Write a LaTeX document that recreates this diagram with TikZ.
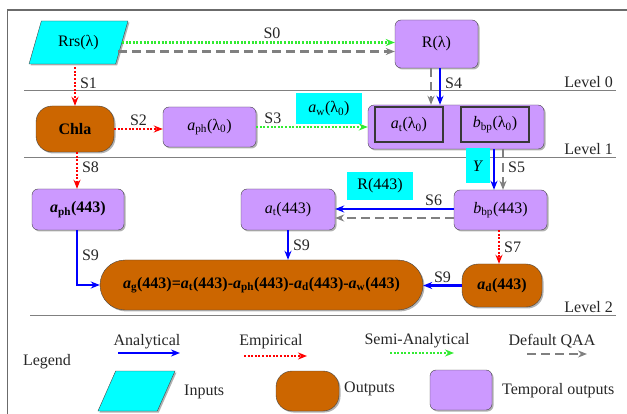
\documentclass[tikz,border=0pt]{standalone}
\usepackage{fontspec}
\setmainfont{Liberation Serif}
\usetikzlibrary{arrows.meta,shapes.geometric,shadows}

\definecolor{tempcol}{RGB}{204,153,255}
\definecolor{outcol}{RGB}{204,102,0}
\definecolor{incol}{RGB}{0,255,255}
\definecolor{semicol}{RGB}{50,235,50}
\definecolor{qaacol}{RGB}{128,128,128}
\definecolor{edgecol}{RGB}{70,70,70}

\begin{document}
\begin{tikzpicture}[x=1pt,y=-1pt,
  font=\fontsize{16}{19}\selectfont,
  shad/.style={drop shadow={shadow xshift=1.5pt,shadow yshift=-1.5pt,opacity=0.3,fill=black}},
  tempbox/.style={draw=edgecol,fill=tempcol,rounded corners=6pt,shad,inner sep=0pt},
  outputbox/.style={draw=edgecol,fill=outcol,rounded corners=16pt,shad,inner sep=0pt,
                    font=\fontsize{16}{19}\selectfont\bfseries},
  inputbox/.style={draw=edgecol,fill=incol,trapezium,trapezium left angle=67,
                   trapezium right angle=113,trapezium stretches=true,shad,inner sep=1pt},
  cell/.style={draw=edgecol!80!black,line width=1.2pt,minimum width=68,minimum height=35,inner sep=0pt},
  tagbox/.style={fill=incol,inner sep=0pt},
  arr/.style={-{Stealth[length=9pt,width=7pt]},line width=2.2pt},
  anl/.style={arr,blue},
  emp/.style={arr,red,dash pattern=on 2pt off 1.6pt},
  semi/.style={arr,semicol,dash pattern=on 2pt off 1.6pt},
  qaa/.style={arr,qaacol,dash pattern=on 9pt off 5pt},
  lvl/.style={qaacol,line width=1pt},
  lbl/.style={inner sep=1pt,text=black!85}
]
  \useasboundingbox (0,0) rectangle (627,414);
  % frame and level lines
  \draw[edgecol!80,line width=1.6pt] (7.5,414) -- (7.5,10) -- (627,10);
  \draw[lvl] (24,91) -- (616,91);
  \draw[lvl] (24,158) -- (616,158);
  \draw[lvl] (30,316) -- (616,316);
  \node[lbl,anchor=base east] (lv0) at (614,87.5)  {Level 0};
  \node[lbl,anchor=base east] (lv1) at (614,154.5) {Level 1};
  \node[lbl,anchor=base east] (lv2) at (614,312.5) {Level 2};

  % Level 0
  \node[inputbox,minimum width=99,minimum height=43] (rrs) at (78.5,42.5) {Rrs(λ)};
  \node[tempbox,minimum width=83,minimum height=48]  (R)   at (436.5,44)  {R(λ)};

  % Level 1
  \node[outputbox,minimum width=78,minimum height=46] (chla) at (75,129)    {Chla};
  \node[tempbox,minimum width=93,minimum height=40]   (aph0) at (209.5,127) {\textit{a}\textsubscript{ph}(λ\textsubscript{0})};
  \node[tempbox,minimum width=176,minimum height=44]  (bp0)  at (456,127)   {};
  \node[cell] (at0)  at (409,124.5) {\textit{a}\textsubscript{t}(λ\textsubscript{0})};
  \node[cell] (bbp0) at (495,124.5) {\textit{b}\textsubscript{bp}(λ\textsubscript{0})};
  \node[tagbox,minimum width=66,minimum height=31] (aw) at (329,108.5) {\textit{a}\textsubscript{w}(λ\textsubscript{0})};

  % Level 2
  \node[tempbox,minimum width=92,minimum height=41,font=\fontsize{16}{19}\selectfont\bfseries]
        (aph443) at (78,209.5) {\textit{a}\textsubscript{ph}(443)};
  \node[tempbox,minimum width=94,minimum height=41] (at443)  at (288,209.5)  {\textit{a}\textsubscript{t}(443)};
  \node[tempbox,minimum width=93,minimum height=40] (bbp443) at (500.5,210)  {\textit{b}\textsubscript{bp}(443)};
  \node[tagbox,minimum width=66,minimum height=28]  (R443)   at (380,186)    {R(443)};
  \node[tagbox,minimum width=24,minimum height=35]  (Y)      at (478,166)    {\textit{Y}};
  \node[outputbox,minimum width=323,minimum height=50,rounded corners=25pt] (ag) at (261.5,285)
        {\textit{a}\textsubscript{g}(443)=\textit{a}\textsubscript{t}(443)-\textit{a}\textsubscript{ph}(443)-\textit{a}\textsubscript{d}(443)-\textit{a}\textsubscript{w}(443)};
  \node[outputbox,minimum width=80,minimum height=43] (ad) at (502,285.5) {\textit{a}\textsubscript{d}(443)};

  % S0: Rrs -> R
  \draw[semi] (rrs.east) -- node[pos=0.55,above=2pt,lbl] {S0} (rrs.east -| R.west);
  \draw[qaa] ([xshift=-4pt,yshift=-9pt]rrs.east) -- ([yshift=-9pt]rrs.east -| R.west);

  % S1, S2, S3, S4
  \draw[emp,shorten <=3pt] (chla.north |- rrs.south) -- node[pos=0.45,right=3pt,lbl] {S1} (chla.north);
  \draw[emp] (chla.east) -- node[above=1pt,lbl] {S2} (chla.east -| aph0.west);
  \draw[semi] (aph0.east) -- node[pos=0.15,above=1pt,lbl] {S3} (aph0.east -| bp0.west);
  \draw[anl] ([xshift=3.5pt]R.south) -- node[pos=0.4,right=3pt,lbl] {S4} ([xshift=3.5pt]R.south |- bp0.north);
  \draw[qaa] ([xshift=-5.5pt]R.south) -- ([xshift=-5.5pt]R.south |- bp0.north);

  % S5, S6, S7, S8
  \draw[anl] ([xshift=-6.5pt]bbp443.north |- bp0.south) -- ([xshift=-6.5pt]bbp443.north);
  \draw[qaa] ([xshift=2.5pt]bbp443.north |- bp0.south) -- node[pos=0.45,right=3pt,lbl] {S5} ([xshift=2.5pt]bbp443.north);
  \draw[anl] ([yshift=1pt]bbp443.west) -- node[pos=0.17,above=1pt,lbl] {S6} ([yshift=1pt]bbp443.west -| at443.east);
  \draw[qaa] ([yshift=-8pt]bbp443.west) -- ([yshift=-8pt]bbp443.west -| at443.east);
  \draw[emp] ([xshift=-1.5pt]bbp443.south) -- node[right=3pt,lbl] {S7} ([xshift=-1.5pt]bbp443.south |- ad.north);
  \draw[emp] ([xshift=2pt]chla.south) -- node[pos=0.4,right=3pt,lbl] {S8} ([xshift=2pt]chla.south |- aph443.north);

  % S9 into a_g
  \draw[anl] ([xshift=-1pt]aph443.south) |- node[pos=0.23,right=3pt,lbl] {S9} (ag.west);
  \draw[anl] (at443.south) -- node[right=3pt,lbl] {S9} (at443.south |- ag.north);
  \draw[anl] (ad.west) -- node[above=1pt,lbl] {S9} (ad.west -| ag.east);

  % Legend
  \node[lbl] (leg) at (47,362) {Legend};
  \node[lbl] (lanl)  at (147,342) {Analytical};
  \node[lbl] (lemp)  at (271,342) {Empirical};
  \node[lbl] (lsemi) at (417,341) {Semi-Analytical};
  \node[lbl] (lqaa)  at (552,341) {Default QAA};
  \coordinate (a1) at (118,353); \coordinate (a2) at (180,353);
  \coordinate (e1) at (244,356); \coordinate (e2) at (307,356);
  \coordinate (g1) at (390,353); \coordinate (g2) at (454,353);
  \coordinate (q1) at (527,354); \coordinate (q2) at (587,354);
  \draw[anl]  (a1) -- (a2);
  \draw[emp]  (e1) -- (e2);
  \draw[semi] (g1) -- (g2);
  \draw[qaa]  (q1) -- (q2);
  \node[inputbox,minimum width=77,minimum height=40]  (lin)   at (136.5,391) {};
  \node[lbl,anchor=west] (linT)   at (183,392) {Inputs};
  \node[outputbox,minimum width=63,minimum height=40] (lout)  at (307.5,391) {};
  \node[lbl,anchor=west] (loutT)  at (343,389) {Outputs};
  \node[tempbox,minimum width=62,minimum height=40]   (ltemp) at (461,390)   {};
  \node[lbl,anchor=west] (ltempT) at (501,391) {Temporal outputs};
\end{tikzpicture}
\end{document}
